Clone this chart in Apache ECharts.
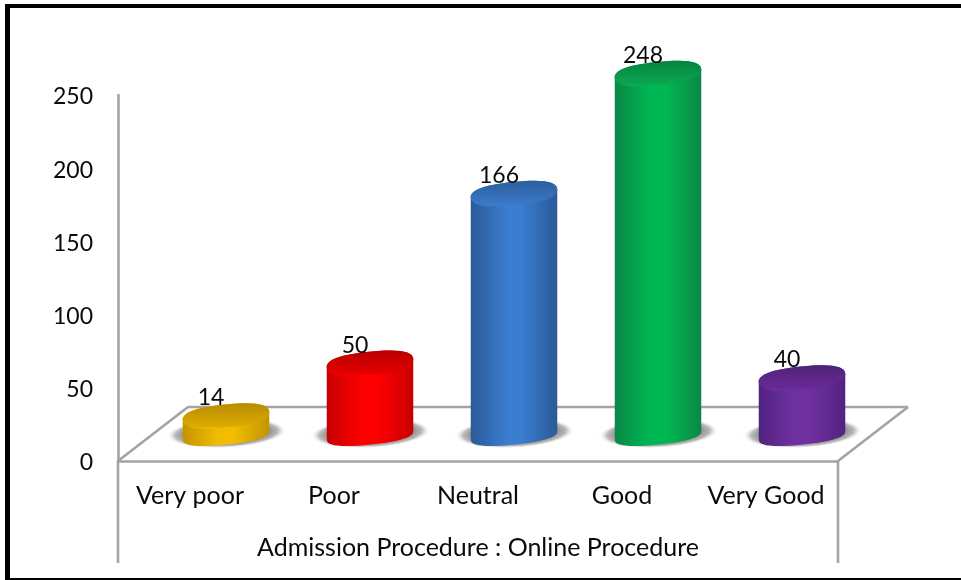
<!DOCTYPE html>
<html><head><meta charset="utf-8">
<style>html,body{margin:0;padding:0;background:#fff}#c{width:961px;height:580px}</style>
<script src="https://cdn.jsdelivr.net/npm/echarts@6/dist/echarts.min.js"></script>
</head><body><div id="c"></div>
<script>
var categories = ['Very poor', 'Poor', 'Neutral', 'Good', 'Very Good'];
var values = [14, 50, 166, 248, 40];
var yTicks = [0, 50, 100, 150, 200, 250];
var edgeColors = ['#c49400', '#c80000', '#2a5a98', '#0a8746', '#512380'];
var midColors = ['#f2bd00', '#ff0000', '#3b7dd0', '#00b853', '#7030a0'];
var topDark = ['#b78c00', '#b90000', '#2c5f9f', '#06833f', '#4f2379'];
var topLight = ['#dca900', '#e40000', '#3a78c6', '#0aa551', '#682a95'];

var FONT = 'Lato';
var DEPTH_X = 70, DEPTH_Y = 54;      // floor skew
var SHIFT_X = 36, BASE_LIFT = 25.5, TOP_LIFT = 24.5;  // cylinder relative to the category tick
var RX = 43.5, RY_TOP = 11.5, RY_BASE = 9, ROT = -6, K = 0.68;

var chart = echarts.init(document.getElementById('c'), null, {renderer: 'canvas'});

function ringMaker(cx, cy, ry) {
  var a = ROT * Math.PI / 180, ca = Math.cos(a), sa = Math.sin(a);
  return function (u, w) {
    var x = u * RX, y = w * ry;
    return (cx + x * ca - y * sa).toFixed(2) + ' ' + (cy + x * sa + y * ca).toFixed(2);
  };
}
function renderCylinder(params, api) {
  var i = api.value(0), v = api.value(1);
  var foot = api.coord([i, 0]), head = api.coord([i, v]);
  var cx = foot[0] + SHIFT_X, by = foot[1] - BASE_LIFT, ty = head[1] - TOP_LIFT;
  var t = ringMaker(cx, ty, RY_TOP), b = ringMaker(cx, by, RY_BASE);
  var topBack = 'C' + t(1, -K) + ' ' + t(K, -1) + ' ' + t(0, -1) + 'C' + t(-K, -1) + ' ' + t(-1, -K) + ' ' + t(-1, 0);
  var body = 'M' + t(-1, 0) + 'L' + b(-1, 0) +
    'C' + b(-1, K) + ' ' + b(-K, 1) + ' ' + b(0, 1) + 'C' + b(K, 1) + ' ' + b(1, K) + ' ' + b(1, 0) +
    'L' + t(1, 0) + topBack + 'Z';
  var cap = 'M' + t(-1, 0) + 'C' + t(-1, K) + ' ' + t(-K, 1) + ' ' + t(0, 1) + 'C' + t(K, 1) + ' ' + t(1, K) + ' ' + t(1, 0) + topBack + 'Z';
  var sideGrad = new echarts.graphic.LinearGradient(0, 0, 1, 0, [
    {offset: 0, color: edgeColors[i]}, {offset: 0.42, color: midColors[i]}, {offset: 0.58, color: midColors[i]},
    {offset: 1, color: edgeColors[i]}]);
  var capGrad = new echarts.graphic.LinearGradient(0, 0, 0, 1, [
    {offset: 0, color: topDark[i]}, {offset: 0.9, color: topLight[i]}, {offset: 1, color: midColors[i]}]);
  var shade = new echarts.graphic.RadialGradient(0.5, 0.5, 0.5, [
    {offset: 0, color: '#808080'}, {offset: 0.7, color: '#8e8e8e'}, {offset: 0.86, color: '#bcbcbc'}, {offset: 1, color: 'rgba(255,255,255,0)'}]);
  return {type: 'group', children: [
    {type: 'circle', x: cx + 0.5, y: by - 2.5, scaleX: 60 / 15, rotation: 0.05, shape: {cx: 0, cy: 0, r: 15}, style: {fill: shade}},
    {type: 'path', shape: {pathData: body}, style: {fill: sideGrad}},
    {type: 'path', shape: {pathData: cap}, style: {fill: capGrad}}
  ]};
}
function renderFrame(params, api) {
  var c = params.coordSys, L = c.x, R = c.x + c.width, B = c.y + c.height, D = B + 102;
  var st = {stroke: '#a3a3a3', lineWidth: 2.6, fill: null};
  function ln(x1, y1, x2, y2) { return {type: 'line', shape: {x1: x1, y1: y1, x2: x2, y2: y2}, style: st}; }
  return {type: 'group', children: [
    ln(L, B, L + DEPTH_X, B - DEPTH_Y), ln(L + DEPTH_X, B - DEPTH_Y, R + DEPTH_X, B - DEPTH_Y),
    ln(R + DEPTH_X, B - DEPTH_Y, R, B), ln(L, B, L, D), ln(R, B, R, D)
  ]};
}
var idx = values.map(function (v, i) { return [i, v]; });
chart.setOption({
  animation: false,
  backgroundColor: '#fff',
  grid: {left: 118, right: 123, top: 95, bottom: 119, containLabel: false},
  xAxis: {
    type: 'category', data: categories, boundaryGap: true,
    axisLine: {show: true, lineStyle: {color: '#a3a3a3', width: 2.6}}, axisTick: {show: false},
    axisLabel: {interval: 0, hideOverlap: false, color: '#0a0a0a', fontFamily: FONT, fontSize: 25, margin: 22},
    name: 'Admission Procedure : Online Procedure', nameLocation: 'middle', nameGap: 74,
    nameTextStyle: {color: '#0a0a0a', fontFamily: FONT, fontSize: 25}
  },
  yAxis: {
    type: 'value', min: yTicks[0], max: yTicks[yTicks.length - 1], interval: yTicks[1] - yTicks[0],
    splitLine: {show: false}, axisTick: {show: false},
    axisLine: {show: true, lineStyle: {color: '#a3a3a3', width: 2.6}},
    axisLabel: {margin: 25, formatter: '{t|{value}}',
      rich: {t: {color: '#0a0a0a', fontFamily: FONT, fontSize: 23, padding: [4, 0, 0, 0]}}}
  },
  graphic: [
    {type: 'rect', z: 100, shape: {x: 5, y: 5, width: 5, height: 575}, style: {fill: '#000'}},
    {type: 'rect', z: 100, shape: {x: 5, y: 4, width: 956, height: 4}, style: {fill: '#000'}},
    {type: 'rect', z: 100, shape: {x: 5, y: 578, width: 956, height: 2}, style: {fill: '#000'}}
  ],
  series: [
    {type: 'custom', coordinateSystem: 'cartesian2d', renderItem: renderFrame, data: [[0, 0]], silent: true, z: 1},
    {type: 'custom', coordinateSystem: 'cartesian2d', renderItem: renderCylinder, data: idx, encode: {x: 0, y: 1}, silent: true, z: 2},
    {type: 'scatter', data: idx, symbolSize: 0, silent: true, z: 3, itemStyle: {opacity: 1},
      label: {show: true, position: 'top', distance: 0, offset: [21, -31], color: '#0a0a0a', fontFamily: FONT, fontSize: 23,
        formatter: function (p) { return String(p.value[1]); }}}
  ]
});
</script></body></html>
